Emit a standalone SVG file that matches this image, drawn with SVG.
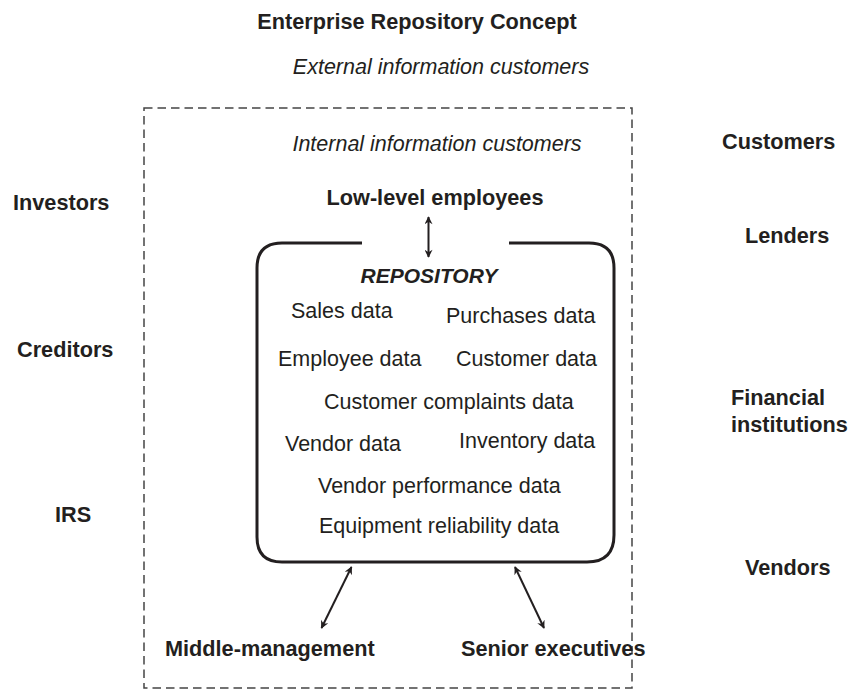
<svg xmlns="http://www.w3.org/2000/svg" width="851" height="690" viewBox="0 0 851 690">
<style>
text{font-family:"Liberation Sans",Arial,sans-serif;fill:#231f20}
.b{font-weight:bold;font-size:21.7px}
.r{font-size:21.5px}
.i{font-style:italic;font-size:21.5px}
.conn{stroke:#231f20;stroke-width:2;fill:none;marker-start:url(#ah);marker-end:url(#ah)}
</style>
<defs>
<marker id="ah" viewBox="0 0 10 10" refX="9" refY="5" markerWidth="10" markerHeight="8" orient="auto-start-reverse" markerUnits="userSpaceOnUse">
<path d="M0,0 L10,5 L0,10 L3,5 z" fill="#231f20"/>
</marker>
</defs>
<rect width="851" height="690" fill="#fff"/>
<text class="b" x="417" y="29" text-anchor="middle">Enterprise Repository Concept</text>
<text class="i" x="441" y="74" text-anchor="middle">External information customers</text>
<g id="internal">
<rect x="144" y="108" width="488" height="580" fill="none" stroke="#444" stroke-width="1.5" stroke-dasharray="8.5,5"/>
<text class="i" x="437" y="151" text-anchor="middle">Internal information customers</text>
</g>
<g id="customers"><text class="b" x="722" y="149">Customers</text></g>
<g id="investors"><text class="b" x="13" y="210">Investors</text></g>
<g id="lenders"><text class="b" x="745" y="243">Lenders</text></g>
<g id="creditors"><text class="b" x="17" y="357">Creditors</text></g>
<g id="financial"><text class="b" x="731" y="405">Financial</text><text class="b" x="731" y="432">institutions</text></g>
<g id="irs"><text class="b" x="55" y="522">IRS</text></g>
<g id="vendors"><text class="b" x="745" y="575">Vendors</text></g>
<g id="lowlevel"><text class="b" x="435" y="205" text-anchor="middle">Low-level employees</text></g>
<g id="middle"><text class="b" x="165" y="656">Middle-management</text></g>
<g id="senior"><text class="b" x="461" y="656">Senior executives</text></g>
<g id="repository">
<path d="M362,243 L282,243 Q257,243 257,268 L257,537 Q257,562 282,562 L587,562 Q614,562 614,535 L614,268 Q614,243 589,243 L509,243" fill="none" stroke="#231f20" stroke-width="3"/>
<text x="429" y="283" text-anchor="middle" style="font-weight:bold;font-style:italic;font-size:21px">REPOSITORY</text>
<text class="r" x="291" y="318">Sales data</text>
<text class="r" x="446" y="323">Purchases data</text>
<text class="r" x="278" y="366">Employee data</text>
<text class="r" x="456" y="366">Customer data</text>
<text class="r" x="324" y="409">Customer complaints data</text>
<text class="r" x="285" y="451">Vendor data</text>
<text class="r" x="459" y="448">Inventory data</text>
<text class="r" x="318" y="493">Vendor performance data</text>
<text class="r" x="319" y="533">Equipment reliability data</text>
</g>
<g id="connectors">
<line class="conn" x1="428.5" y1="217" x2="428.5" y2="257"/>
<line class="conn" x1="351.5" y1="567" x2="321.5" y2="628"/>
<line class="conn" x1="515" y1="567" x2="544" y2="628"/>
</g>
</svg>
